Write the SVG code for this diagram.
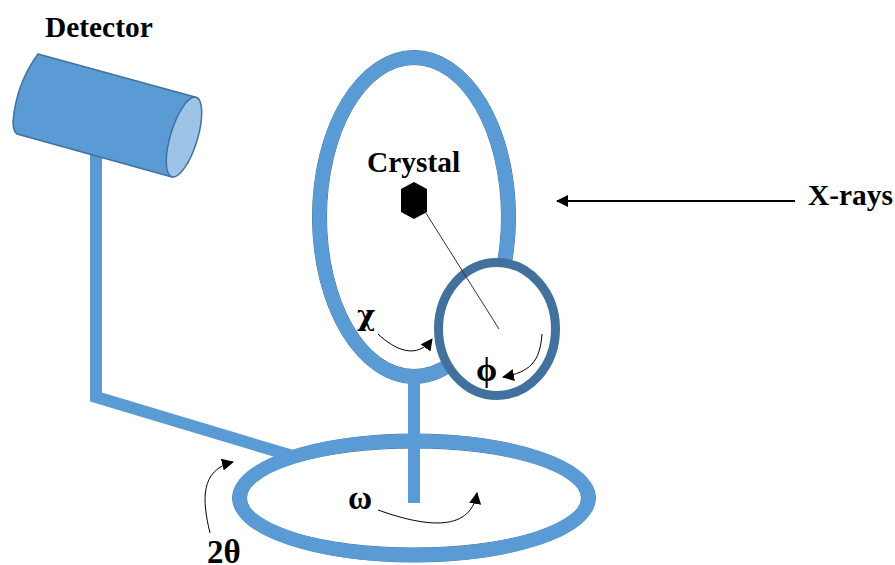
<svg xmlns="http://www.w3.org/2000/svg" width="895" height="565" viewBox="0 0 895 565">
<style>
text{font-family:"Liberation Serif","Times New Roman",serif;font-weight:bold;fill:#000}
.lbl{font-size:29.400px}
.sym{font-size:33px}
.ring{fill:none;stroke:#5b9bd5;stroke-width:14}
.edge{fill:none;stroke:#41719c;stroke-width:1}
.bar{fill:none;stroke:#5b9bd5;stroke-width:12}
.curve{fill:none;stroke:#000;stroke-width:1}
</style>
<defs>
<marker id="ah" markerUnits="userSpaceOnUse" markerWidth="14" markerHeight="14" refX="11" refY="6" orient="auto"><path d="M0 0L12 6L0 12Z" fill="#000"/></marker>
</defs>
<rect width="895" height="565" fill="#fff"/>
<g id="arm">
<path class="bar" d="M96 150V397L296 457"/>
</g>
<g id="omega-ring">
<ellipse class="edge" cx="414" cy="498" rx="181.500" ry="64"/>
<ellipse class="edge" cx="414" cy="498" rx="167.500" ry="50"/>
<ellipse class="ring" cx="414" cy="498" rx="174.500" ry="57"/>
</g>
<g id="chi-ring">
<ellipse class="edge" cx="414" cy="217" rx="101.500" ry="166.500"/>
<ellipse class="edge" cx="414" cy="217" rx="87.500" ry="152.500"/>
<ellipse class="ring" cx="414" cy="217" rx="94.500" ry="159.500"/>
</g>
<g id="post">
<rect x="408" y="381" width="12" height="122" fill="#5b9bd5"/>
</g>
<g id="phi-ring">
<ellipse cx="497" cy="329" rx="58.500" ry="66.500" fill="#fff" stroke="#41719c" stroke-width="9"/>
</g>
<g id="detector">
<path d="M38 54L195 97L172 177L17 134Q13 131 13 122Q16 84 38 54Z" fill="#5b9bd5" stroke="#41719c" stroke-width="1.500" stroke-linejoin="round"/>
<ellipse cx="184" cy="137" rx="41.500" ry="13.500" transform="rotate(-73 184 137)" fill="#9dc3e6" stroke="#41719c" stroke-width="1.500"/>
</g>
<g id="crystal">
<polygon points="414,182 427,189 427,212 414,219 401,212 401,189" fill="#000"/>
</g>
<g id="connectors">
<line x1="424" y1="210" x2="499" y2="329" stroke="#333" stroke-width="1"/>
<line x1="795" y1="201" x2="557" y2="201" stroke="#000" stroke-width="2" marker-end="url(#ah)"/>
<path class="curve" d="M378 334C395 350 417 360 432 339" marker-end="url(#ah)"/>
<path class="curve" d="M542 334C540 362 530 372 503 377" marker-end="url(#ah)"/>
<path class="curve" d="M378 510C420 525 470 535 477 493" marker-end="url(#ah)"/>
<path class="curve" d="M210 533C202 500 200 470 233 462" marker-end="url(#ah)"/>
</g>
<g id="labels">
<text class="lbl" x="45" y="37">Detector</text>
<text class="lbl" x="367" y="172">Crystal</text>
<text class="lbl" x="808" y="205">X-rays</text>
<text class="sym" x="357" y="325" style="font-family:'DejaVu Serif','Liberation Serif',serif;font-size:28px">χ</text>
<text class="sym" x="476" y="381" style="font-size:34px">ϕ</text>
<text class="sym" x="348" y="509">ω</text>
<text class="sym" x="207" y="563">2θ</text>
</g>
</svg>
